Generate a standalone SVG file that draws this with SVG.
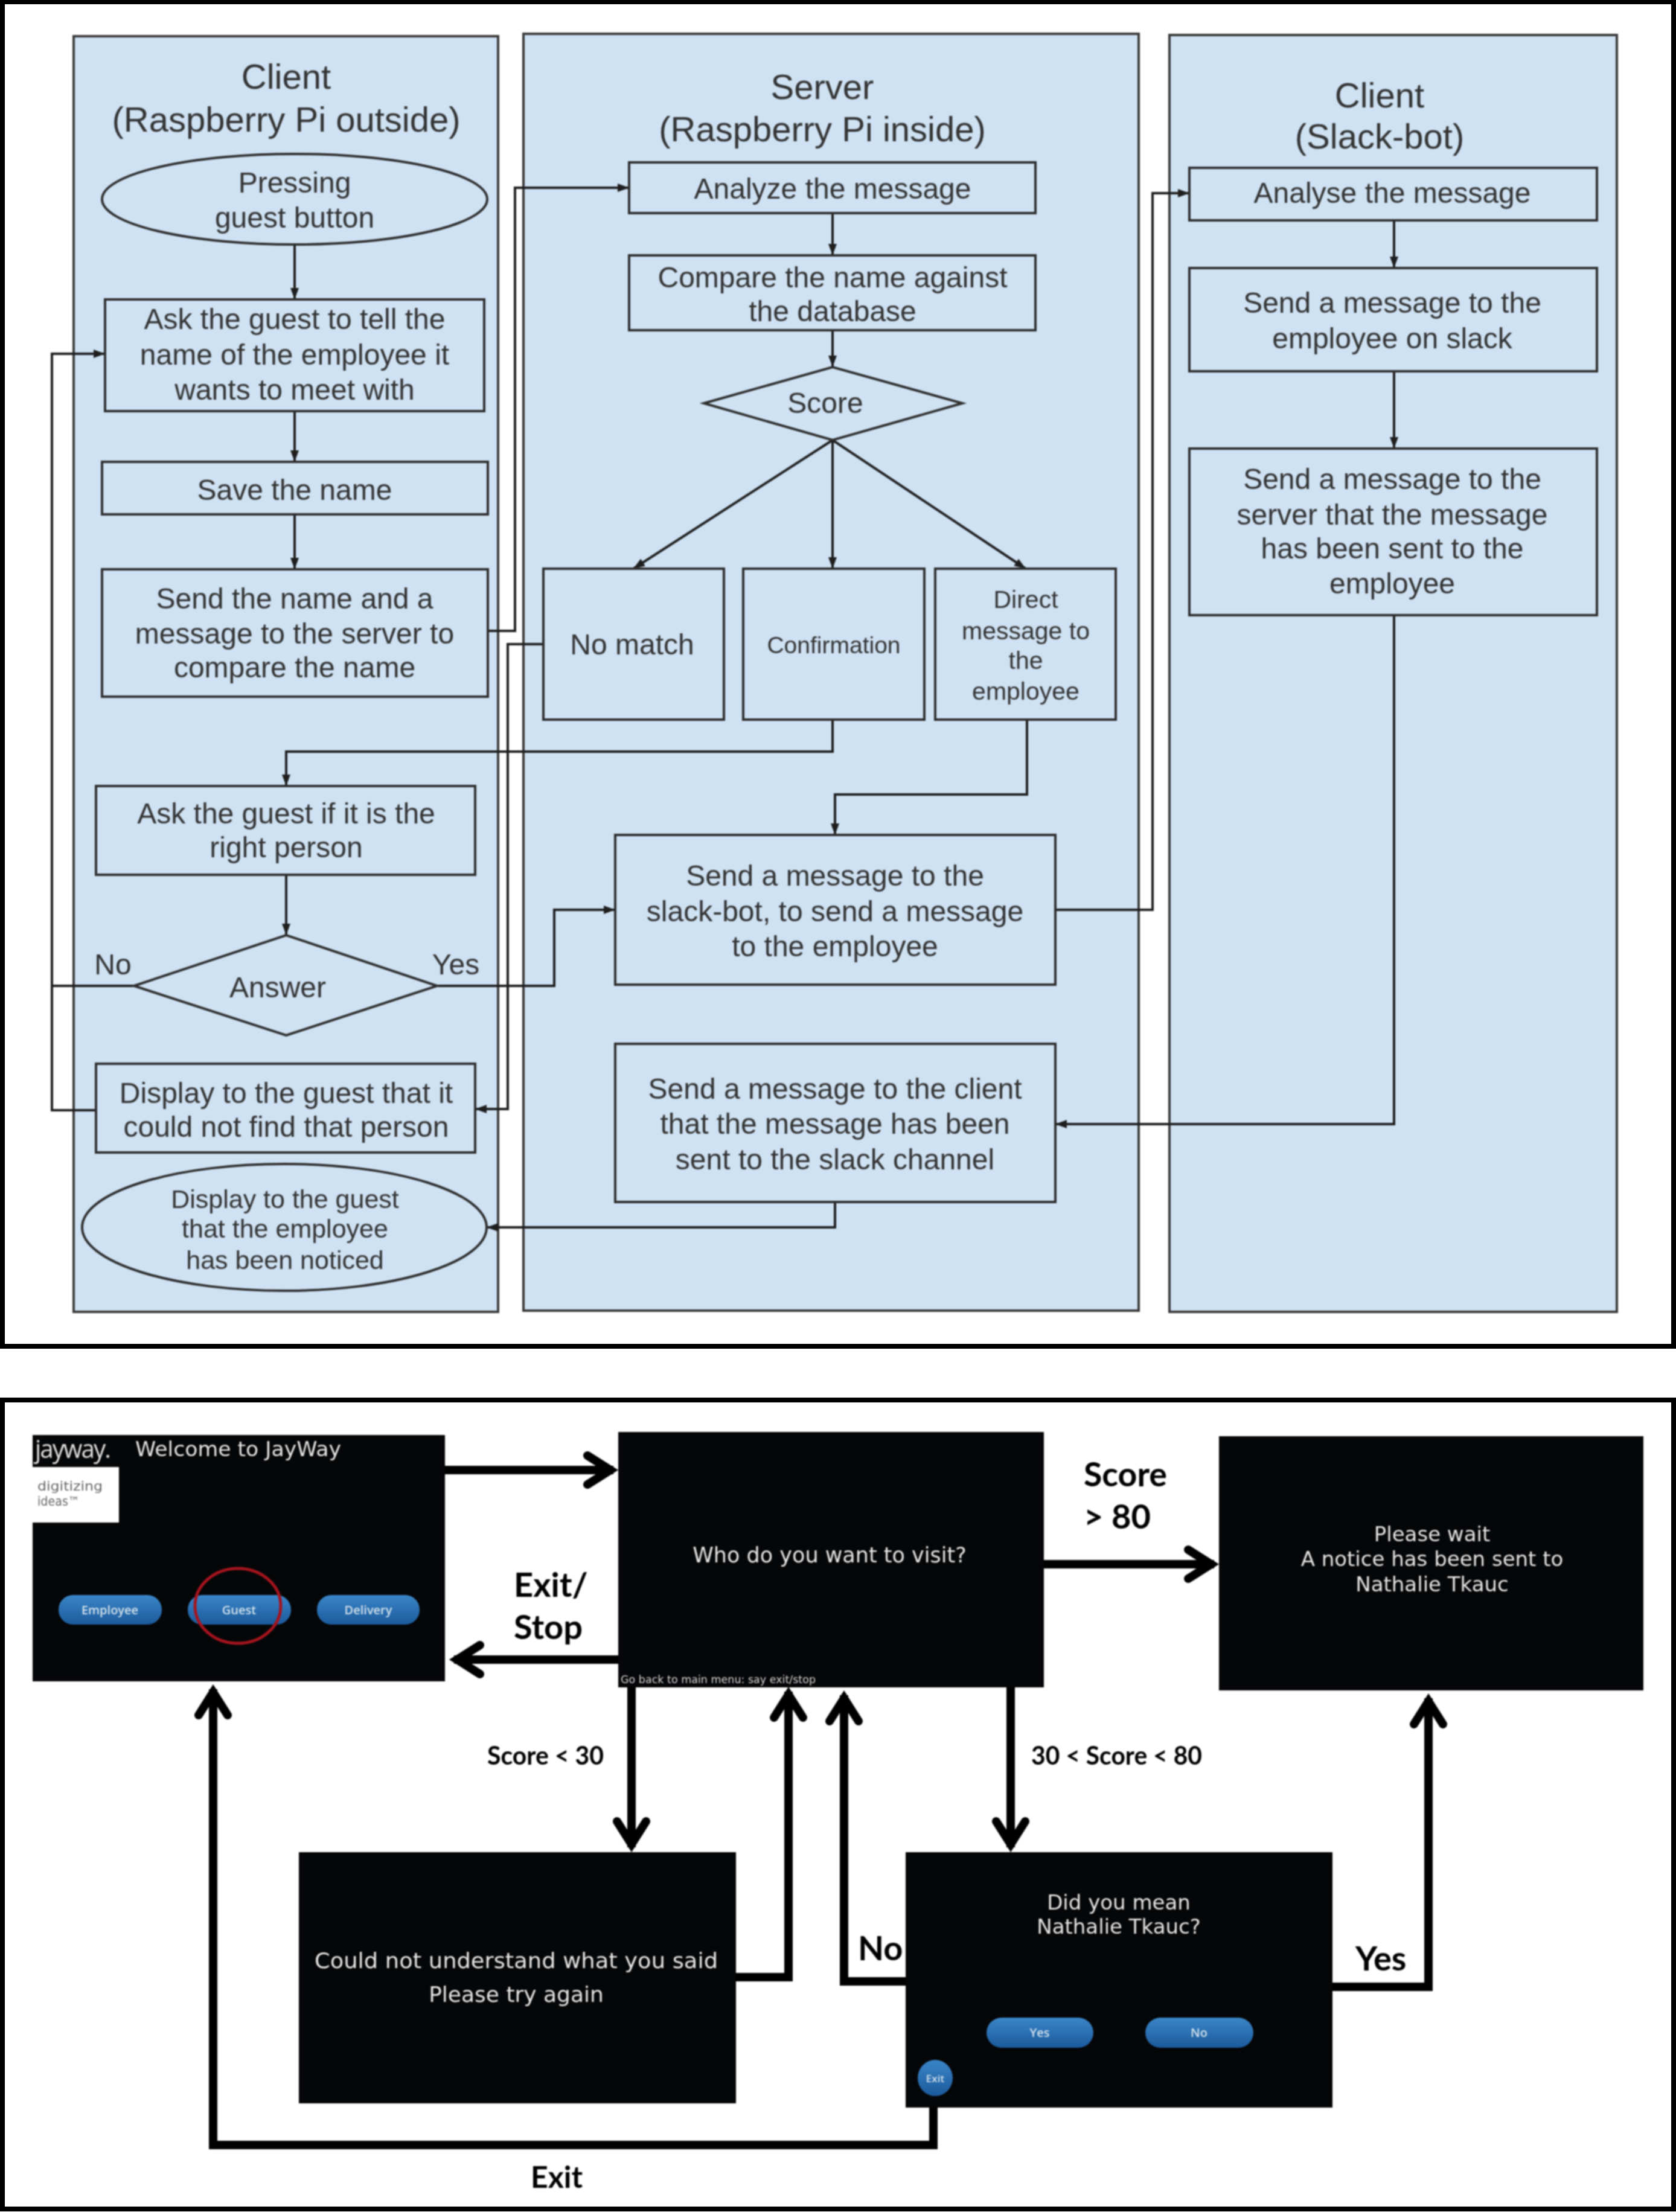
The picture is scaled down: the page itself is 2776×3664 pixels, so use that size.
<svg xmlns="http://www.w3.org/2000/svg" width="2776" height="3664" viewBox="0 0 2776 3664">
<style>
.frame{fill:#fff;stroke:#000;stroke-width:8}
.lane{fill:#cfe2f3;stroke:#3a3a3a;stroke-width:4}
.n{fill:#cfe2f3;stroke:#2e2e2e;stroke-width:4}
.t{font-family:"Liberation Sans",Arial,sans-serif;font-size:48px;fill:#333;text-anchor:middle}
.ttl{font-size:58px}
.sm{font-size:43px}
.xs{font-size:39px}
.wire{fill:none;stroke:#1e1e1e;stroke-width:4;marker-end:url(#tip)}
.plain{fill:none;stroke:#1e1e1e;stroke-width:4}
.fat{fill:none;stroke:#000;stroke-width:14;stroke-linejoin:miter;marker-end:url(#chev)}
.scr{fill:#050608}
.st{font-family:"DejaVu Sans",sans-serif;font-size:34px;fill:#e6e6e6;text-anchor:middle}
.btn{fill:url(#b)}
.bt{font-family:"Open Sans",sans-serif;font-weight:600;font-size:20px;fill:#d5e2ec;text-anchor:middle}
.lb{font-family:Lato,"Open Sans",sans-serif;font-weight:700;fill:#000;font-size:56px}
.soft{filter:blur(1.3px)}
.soft2{filter:blur(.8px)}
</style>
<defs>
<marker id="tip" markerUnits="userSpaceOnUse" markerWidth="24" markerHeight="24" refX="22" refY="12" orient="auto"><path d="M3,5 L22,12 L3,19 Z" fill="#1e1e1e"/></marker>
<marker id="chev" markerUnits="userSpaceOnUse" markerWidth="80" markerHeight="80" refX="65" refY="40" orient="auto" style="overflow:visible"><path d="M22,16 L60,40 L22,64" fill="none" stroke="#000" stroke-width="14" stroke-linecap="round" stroke-linejoin="miter" stroke-miterlimit="8"/></marker>
<linearGradient id="b" x1="0" y1="0" x2="0" y2="1"><stop offset="0" stop-color="#3a86c8"/><stop offset="1" stop-color="#1b5a9c"/></linearGradient>
</defs>
<rect class="frame" x="4" y="3" width="2768" height="2227"/>
<rect class="frame" x="4" y="2319" width="2768" height="1340"/>
<g id="flowchart" class="soft">
<g id="lane-client-pi"><rect class="lane" x="122" y="60" width="703" height="2113"/><text class="t ttl" x="474" y="147">Client</text><text class="t ttl" x="474" y="218">(Raspberry Pi outside)</text></g>
<g id="lane-server"><rect class="lane" x="867" y="56" width="1019" height="2115"/><text class="t ttl" x="1362" y="164">Server</text><text class="t ttl" x="1362" y="234">(Raspberry Pi inside)</text></g>
<g id="lane-client-slack"><rect class="lane" x="1937" y="58" width="741" height="2115"/><text class="t ttl" x="2285" y="178">Client</text><text class="t ttl" x="2285" y="246">(Slack-bot)</text></g>
<g id="connectors">
<path class="wire" d="M488,405V496"/>
<path class="wire" d="M488,681V765"/>
<path class="wire" d="M488,852V943"/>
<path class="wire" d="M808,1045H853V311H1042"/>
<path class="wire" d="M900,1067H841V1837H787"/>
<path class="wire" d="M1379,353V423"/>
<path class="wire" d="M1379,547V608"/>
<path class="wire" d="M1379,729L1049,942"/>
<path class="wire" d="M1379,729V942"/>
<path class="wire" d="M1379,729L1699,942"/>
<path class="wire" d="M1379,1192V1245H474V1302"/>
<path class="wire" d="M1701,1192V1316H1383V1383"/>
<path class="wire" d="M474,1449V1549"/>
<path class="plain" d="M222,1633H86"/>
<path class="wire" d="M159,1839H86V586H174"/>
<path class="wire" d="M724,1633H918V1507H1019"/>
<path class="wire" d="M1748,1507H1909V320H1970"/>
<path class="wire" d="M2309,1019V1862H1748"/>
<path class="wire" d="M2309,365V444"/>
<path class="wire" d="M2309,615V743"/>
<path class="wire" d="M1383,1991V2033H806"/>
</g>
<g id="n-pressing"><ellipse class="n" cx="488" cy="330" rx="319" ry="75"/><text class="t" x="488" y="319">Pressing</text><text class="t" x="488" y="377">guest button</text></g>
<g id="n-ask"><rect class="n" x="174" y="496" width="628" height="185"/><text class="t" x="488" y="545">Ask the guest to tell the</text><text class="t" x="488" y="604">name of the employee it</text><text class="t" x="488" y="662">wants to meet with</text></g>
<g id="n-save"><rect class="n" x="169" y="765" width="639" height="87"/><text class="t" x="488" y="828">Save the name</text></g>
<g id="n-send"><rect class="n" x="169" y="943" width="639" height="211"/><text class="t" x="488" y="1008">Send the name and a</text><text class="t" x="488" y="1066">message to the server to</text><text class="t" x="488" y="1122">compare the name</text></g>
<g id="n-askright"><rect class="n" x="159" y="1302" width="628" height="147"/><text class="t" x="474" y="1364">Ask the guest if it is the</text><text class="t" x="474" y="1420">right person</text></g>
<g id="n-answer"><polygon class="n" points="222,1633 474,1549 724,1633 474,1715"/><text class="t" x="460" y="1652">Answer</text></g>
<text class="t" x="187" y="1614">No</text>
<text class="t" x="755" y="1614">Yes</text>
<g id="n-notfound"><rect class="n" x="159" y="1762" width="628" height="147"/><text class="t" x="474" y="1827">Display to the guest that it</text><text class="t" x="474" y="1883">could not find that person</text></g>
<g id="n-noticed"><ellipse class="n" cx="471" cy="2033" rx="335" ry="105"/><text class="t sm" x="472" y="2001">Display to the guest</text><text class="t sm" x="472" y="2050">that the employee</text><text class="t sm" x="472" y="2102">has been noticed</text></g>
<g id="n-analyze"><rect class="n" x="1042" y="269" width="673" height="84"/><text class="t" x="1379" y="329">Analyze the message</text></g>
<g id="n-compare"><rect class="n" x="1042" y="423" width="673" height="124"/><text class="t" x="1379" y="476">Compare the name against</text><text class="t" x="1379" y="532">the database</text></g>
<g id="n-score"><polygon class="n" points="1166,668 1379,608 1594,668 1379,729"/><text class="t" x="1367" y="684">Score</text></g>
<g id="n-nomatch"><rect class="n" x="900" y="942" width="299" height="250"/><text class="t" x="1047" y="1084">No match</text></g>
<g id="n-confirm"><rect class="n" x="1231" y="942" width="300" height="250"/><text class="t xs" x="1381" y="1082">Confirmation</text></g>
<g id="n-direct"><rect class="n" x="1549" y="942" width="299" height="250"/><text class="t xs" x="1699" y="1007" style="font-size:41px">Direct</text><text class="t xs" x="1699" y="1059" style="font-size:41px">message to</text><text class="t xs" x="1699" y="1108" style="font-size:41px">the</text><text class="t xs" x="1699" y="1159" style="font-size:41px">employee</text></g>
<g id="n-toslack"><rect class="n" x="1019" y="1383" width="729" height="248"/><text class="t" x="1383" y="1467">Send a message to the</text><text class="t" x="1383" y="1526">slack-bot, to send a message</text><text class="t" x="1383" y="1584">to the employee</text></g>
<g id="n-toclient"><rect class="n" x="1019" y="1729" width="729" height="262"/><text class="t" x="1383" y="1820">Send a message to the client</text><text class="t" x="1383" y="1878">that the message has been</text><text class="t" x="1383" y="1937">sent to the slack channel</text></g>
<g id="n-analyse"><rect class="n" x="1970" y="278" width="675" height="87"/><text class="t" x="2306" y="336">Analyse the message</text></g>
<g id="n-toemployee"><rect class="n" x="1970" y="444" width="675" height="171"/><text class="t" x="2306" y="518">Send a message to the</text><text class="t" x="2306" y="577">employee on slack</text></g>
<g id="n-toserver"><rect class="n" x="1970" y="743" width="675" height="276"/><text class="t" x="2306" y="810">Send a message to the</text><text class="t" x="2306" y="869">server that the message</text><text class="t" x="2306" y="925">has been sent to the</text><text class="t" x="2306" y="983">employee</text></g>
</g>
<g id="screens" class="soft2">
<g id="screen-connectors">
<path class="fat" d="M737,2435H1016"/>
<path class="fat" d="M1025,2749H752"/>
<path class="fat" d="M1729,2591H2011"/>
<path class="fat" d="M1046,2795V3060"/>
<path class="fat" d="M1674,2794V3060"/>
<path class="fat" d="M1219,3275H1306V2802"/>
<path class="fat" d="M1500,3282H1398V2808"/>
<path class="fat" d="M2207,3291H2366V2813"/>
<path class="fat" d="M1546,3491V3553H353V2798"/>
</g>
<g id="s-welcome"><rect class="scr" x="54" y="2377" width="683" height="408"/><rect x="54" y="2430" width="143" height="92" fill="#fff"/><text x="58" y="2415" style="font-family:'Open Sans',sans-serif;font-size:42px;fill:#e0e0e0;letter-spacing:-2px" textLength="124" lengthAdjust="spacingAndGlyphs">jayway.</text><text x="62" y="2469" textLength="108" lengthAdjust="spacingAndGlyphs" style="font-family:'DejaVu Sans',sans-serif;font-size:21px;fill:#666">digitizing</text><text x="62" y="2494" textLength="70" lengthAdjust="spacingAndGlyphs" style="font-family:'DejaVu Sans',sans-serif;font-size:21px;fill:#666">ideas™</text><text class="st" x="224" y="2412" style="text-anchor:start" textLength="341" lengthAdjust="spacingAndGlyphs">Welcome to JayWay</text>
<rect class="btn" x="97" y="2642" width="171" height="49" rx="24"/><text class="bt" x="182" y="2674">Employee</text>
<rect class="btn" x="311" y="2642" width="171" height="49" rx="24"/><text class="bt" x="396" y="2674">Guest</text>
<rect class="btn" x="525" y="2642" width="170" height="49" rx="24"/><text class="bt" x="610" y="2674">Delivery</text>
<ellipse cx="394" cy="2660" rx="71" ry="62" fill="none" stroke="#a5141e" stroke-width="5"/></g>
<g id="s-who"><rect class="scr" x="1024" y="2372" width="705" height="423"/><text class="st" x="1374" y="2588" style="font-size:35px">Who do you want to visit?</text><text x="1028" y="2788" textLength="323" lengthAdjust="spacingAndGlyphs" style="font-family:'DejaVu Sans',sans-serif;font-size:18px;fill:#d8d8d8">Go back to main menu: say exit/stop</text></g>
<g id="s-wait"><rect class="scr" x="2019" y="2379" width="703" height="421"/><text class="st" x="2372" y="2553">Please wait</text><text class="st" x="2372" y="2594">A notice has been sent to</text><text class="st" x="2372" y="2636">Nathalie Tkauc</text></g>
<g id="s-retry"><rect class="scr" x="495" y="3068" width="724" height="416"/><text class="st" x="855" y="3260" style="font-size:36px" textLength="668" lengthAdjust="spacingAndGlyphs">Could not understand what you said</text><text class="st" x="855" y="3316" style="font-size:36px">Please try again</text></g>
<g id="s-mean"><rect class="scr" x="1500" y="3068" width="707" height="423"/><text class="st" x="1853" y="3163">Did you mean</text><text class="st" x="1853" y="3203">Nathalie Tkauc?</text>
<rect class="btn" x="1634" y="3342" width="177" height="50" rx="25"/><text class="bt" x="1722" y="3374">Yes</text>
<rect class="btn" x="1897" y="3342" width="179" height="50" rx="25"/><text class="bt" x="1986" y="3374">No</text>
<ellipse class="btn" cx="1549" cy="3442" rx="29" ry="30"/><text class="bt" x="1549" y="3449" style="font-size:17px">Exit</text></g>
<text class="lb" x="1795" y="2462" textLength="138" lengthAdjust="spacingAndGlyphs">Score</text>
<text class="lb" x="1795" y="2532">&gt; 80</text>
<text class="lb" x="851" y="2645">Exit/</text>
<text class="lb" x="851" y="2715">Stop</text>
<text class="lb" x="807" y="2923" style="font-size:42px" textLength="193" lengthAdjust="spacingAndGlyphs">Score &lt; 30</text>
<text class="lb" x="1708" y="2923" style="font-size:42px" textLength="283" lengthAdjust="spacingAndGlyphs">30 &lt; Score &lt; 80</text>
<text class="lb" x="1421" y="3247">No</text>
<text class="lb" x="2245" y="3264">Yes</text>
<text class="lb" x="879" y="3624" style="font-size:50px">Exit</text>
</g>
</svg>
